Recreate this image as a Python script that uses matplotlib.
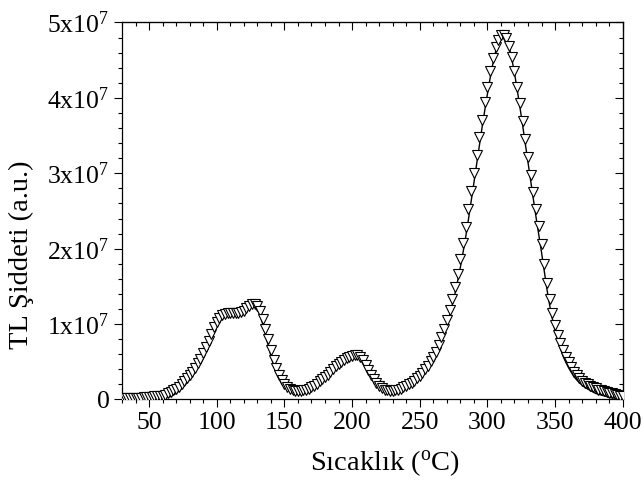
import numpy as np
import matplotlib
matplotlib.use('Agg')
import matplotlib.pyplot as plt
from matplotlib.ticker import MultipleLocator, FuncFormatter

plt.rcParams['font.family'] = ['Liberation Serif', 'DejaVu Serif']
plt.rcParams['mathtext.fontset'] = 'custom'
plt.rcParams['mathtext.rm'] = 'Liberation Serif'
plt.rcParams['mathtext.it'] = 'Liberation Serif:italic'

# temperature grid (degC), 2 degree steps
temperature = np.arange(30, 401, 2)

# measured TL intensity, in units of 1e7
measured = [
    0.02, 0.02, 0.02, 0.02, 0.02, 0.02, 0.02, 0.02, 0.03, 0.03,
    0.03, 0.03, 0.04, 0.04, 0.05, 0.05, 0.06, 0.08, 0.10, 0.12,
    0.14, 0.17, 0.21, 0.25, 0.28, 0.32, 0.37, 0.42, 0.48, 0.54,
    0.61, 0.69, 0.78, 0.87, 0.96, 1.03, 1.08, 1.12, 1.14, 1.15,
    1.15, 1.15, 1.15, 1.15, 1.16, 1.18, 1.21, 1.24, 1.26, 1.26,
    1.24, 1.18, 1.07, 0.94, 0.80, 0.66, 0.53, 0.42, 0.33, 0.26,
    0.20, 0.16, 0.14, 0.12, 0.11, 0.11, 0.11, 0.12, 0.13, 0.14,
    0.16, 0.18, 0.21, 0.24, 0.27, 0.30, 0.33, 0.37, 0.40, 0.44,
    0.47, 0.50, 0.53, 0.55, 0.57, 0.58, 0.59, 0.59, 0.57, 0.52,
    0.46, 0.39, 0.33, 0.27, 0.22, 0.18, 0.15, 0.13, 0.12, 0.11,
    0.11, 0.12, 0.13, 0.14, 0.16, 0.18, 0.20, 0.22, 0.25, 0.28,
    0.31, 0.35, 0.40, 0.45, 0.51, 0.57, 0.63, 0.72, 0.83, 0.94,
    1.06, 1.19, 1.33, 1.49, 1.67, 1.86, 2.07, 2.29, 2.52, 2.76,
    3.00, 3.24, 3.48, 3.71, 3.94, 4.15, 4.35, 4.53, 4.67, 4.77,
    4.83, 4.84, 4.79, 4.69, 4.54, 4.36, 4.15, 3.93, 3.70, 3.46,
    3.22, 2.98, 2.75, 2.52, 2.30, 2.06, 1.80, 1.55, 1.33, 1.15,
    0.99, 0.86, 0.75, 0.65, 0.57, 0.50, 0.43, 0.37, 0.32, 0.28,
    0.25, 0.22, 0.20, 0.18, 0.16, 0.15, 0.13, 0.12, 0.11, 0.10,
    0.09, 0.08, 0.07, 0.06, 0.05, 0.04,
]

# fitted curve, in units of 1e7
fitted = [
    0.00, 0.00, 0.00, 0.00, 0.00, 0.00, 0.00, 0.00, 0.00, 0.00,
    0.00, 0.00, 0.00, 0.01, 0.01, 0.01, 0.02, 0.03, 0.04, 0.06,
    0.08, 0.11, 0.14, 0.18, 0.22, 0.26, 0.31, 0.36, 0.42, 0.48,
    0.55, 0.62, 0.70, 0.79, 0.88, 0.96, 1.03, 1.08, 1.11, 1.12,
    1.12, 1.12, 1.12, 1.12, 1.13, 1.15, 1.18, 1.21, 1.23, 1.23,
    1.20, 1.12, 1.00, 0.86, 0.72, 0.58, 0.46, 0.36, 0.28, 0.21,
    0.16, 0.13, 0.11, 0.10, 0.09, 0.09, 0.09, 0.10, 0.11, 0.12,
    0.13, 0.15, 0.17, 0.20, 0.23, 0.26, 0.29, 0.33, 0.36, 0.40,
    0.43, 0.47, 0.50, 0.52, 0.54, 0.56, 0.57, 0.57, 0.55, 0.50,
    0.44, 0.37, 0.30, 0.24, 0.19, 0.15, 0.12, 0.10, 0.09, 0.09,
    0.09, 0.10, 0.11, 0.12, 0.13, 0.15, 0.17, 0.19, 0.22, 0.25,
    0.28, 0.32, 0.36, 0.41, 0.46, 0.52, 0.58, 0.66, 0.76, 0.87,
    0.99, 1.11, 1.25, 1.40, 1.57, 1.75, 1.95, 2.16, 2.39, 2.63,
    2.87, 3.12, 3.36, 3.60, 3.83, 4.05, 4.26, 4.45, 4.61, 4.73,
    4.80, 4.82, 4.78, 4.68, 4.52, 4.33, 4.11, 3.88, 3.64, 3.39,
    3.14, 2.89, 2.65, 2.41, 2.18, 1.95, 1.70, 1.46, 1.25, 1.07,
    0.91, 0.78, 0.67, 0.57, 0.49, 0.42, 0.36, 0.30, 0.26, 0.22,
    0.19, 0.16, 0.14, 0.12, 0.10, 0.08, 0.07, 0.06, 0.05, 0.04,
    0.03, 0.02, 0.02, 0.01, 0.01, 0.01,
]

scale = 1e7

fig = plt.figure(figsize=(6.44, 4.91), dpi=100)
ax = fig.add_axes([0.1894, 0.1864, 0.7776, 0.7678])

# fit line underneath, measured points on top
ax.plot(temperature, np.array(fitted) * scale, color='black', lw=1.0, zorder=2)
ax.plot(temperature, np.array(measured) * scale, linestyle='none', marker='v',
        markersize=7.4, markerfacecolor='white', markeredgecolor='black',
        markeredgewidth=0.8, zorder=3)

ax.set_xlim(30, 400)
ax.set_ylim(0, 5e7)

ax.xaxis.set_major_locator(MultipleLocator(50))
ax.xaxis.set_minor_locator(MultipleLocator(10))
ax.yaxis.set_major_locator(MultipleLocator(1e7))
ax.yaxis.set_minor_locator(MultipleLocator(2e6))
ax.yaxis.set_major_formatter(FuncFormatter(
    lambda v, p: '0' if v == 0 else '%dx10$^{7}$' % round(v / 1e7)))

ax.tick_params(which='both', direction='out', labelsize=18.5, width=0.8, pad=3)
ax.tick_params(which='major', length=6)
ax.tick_params(which='minor', length=3)

# mirrored ticks pointing inward on top and right
top = ax.secondary_xaxis('top')
top.xaxis.set_major_locator(MultipleLocator(50))
top.xaxis.set_minor_locator(MultipleLocator(10))
top.tick_params(which='both', direction='in', labeltop=False, width=0.8)
top.tick_params(which='major', length=6)
top.tick_params(which='minor', length=3)

right = ax.secondary_yaxis('right')
right.yaxis.set_major_locator(MultipleLocator(1e7))
right.yaxis.set_minor_locator(MultipleLocator(2e6))
right.tick_params(which='both', direction='in', labelright=False, width=0.8)
right.tick_params(which='major', length=6)
right.tick_params(which='minor', length=3)

for s in ax.spines.values():
    s.set_linewidth(0.9)

ax.set_xlabel('Sıcaklık ($^{\\rm o}$C)', fontsize=20.5)
ax.set_ylabel('TL Şiddeti (a.u.)', fontsize=20.5)
ax.xaxis.set_label_coords(0.525, -0.13)
ax.yaxis.set_label_coords(-0.175, 0.383)

fig.savefig('out.png', dpi=100)
